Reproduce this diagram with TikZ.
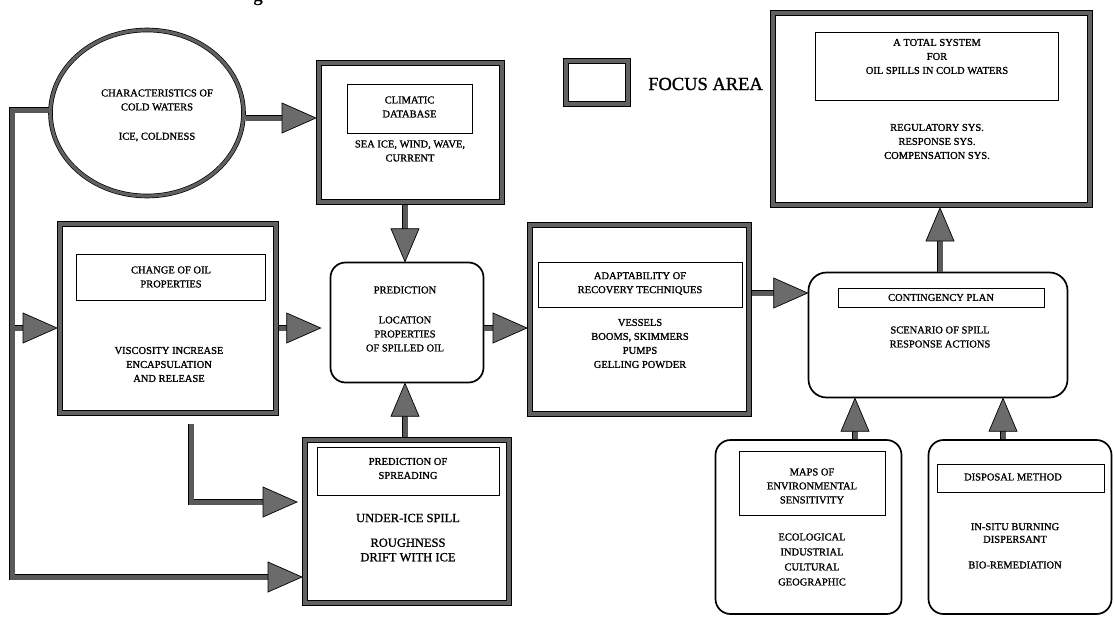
\documentclass[tikz,border=0pt]{standalone}
\usepackage{fontspec}
\setmainfont{Liberation Serif}
\newfontfamily\scanfont[FakeBold=1.2]{Liberation Serif}
\usetikzlibrary{shapes.geometric,calc}
\tikzset{
 focus/.style={draw=black, line width=0.7pt, double=black!62, double distance=4.6pt, fill=white, inner sep=0pt, outer sep=3pt},
 inbox/.style={draw=black, line width=0.9pt, inner sep=0pt},
 rbox/.style={draw=black, line width=1.7pt, rounded corners=15pt, inner sep=0pt, outer sep=0.8pt},
 txt/.style={align=center, inner sep=0pt, font=\scanfont\fontsize{10.5}{14}\selectfont},
 bigtxt/.style={align=center, inner sep=0pt, font=\scanfont\fontsize{12.5}{14.5}\selectfont},
 shaft/.style={draw=black, line width=0.7pt, double=black!65, double distance=5pt},
 head/.style={draw=black, line width=0.7pt, fill=black!58, line join=miter},
}
\newcommand\hdR[1]{\filldraw[head] (#1) -- ++(-34,-15) -- ++(0,30) -- cycle;}
\newcommand\hdU[1]{\filldraw[head] (#1) -- ++(-14,33) -- ++(28,0) -- cycle;}
\newcommand\hdD[1]{\filldraw[head] (#1) -- ++(-14,-33) -- ++(28,0) -- cycle;}
\begin{document}
\begin{tikzpicture}[x=1pt,y=-1pt]
\useasboundingbox (0,0) rectangle (1114,616);
% caption fragment
\node[font=\scanfont\fontsize{19}{19}\selectfont, anchor=base, inner sep=0pt] (capg) at (258,1) {g};
% ellipse
\node[ellipse, draw=black, line width=0.7pt, double=black!62, double distance=3.2pt, minimum width=193pt, minimum height=166pt, outer sep=2pt] (ell) at (147,113) {};
\node[txt] (ellt) at (157,100) {CHARACTERISTICS OF\\COLD WATERS};
\node[txt] (ellb) at (157,137) {ICE, COLDNESS};
% climatic
\node[focus, minimum width=183pt, minimum height=139pt] (clim) at (410.5,132.5) {};
\node[inbox, minimum width=125pt, minimum height=49pt] (climin) at (409.5,108.5) {};
\node[txt] (climt) at (409.5,107) {CLIMATIC\\DATABASE};
\node[txt] (climb) at (410,151) {SEA ICE, WIND, WAVE,\\CURRENT};
% legend
\node[focus, minimum width=62pt, minimum height=43pt] (legend) at (597,82.5) {};
\node[inner sep=0pt, font=\scanfont\fontsize{18.5}{20}\selectfont, anchor=west] (legendt) at (648,84) {FOCUS AREA};
% total system
\node[focus, minimum width=317pt, minimum height=192pt] (total) at (931.5,109) {};
\node[inbox, minimum width=243pt, minimum height=68pt] (totalin) at (936.5,66) {};
\node[txt] (totalt) at (937,56.5) {A TOTAL SYSTEM\\FOR\\OIL SPILLS IN COLD WATERS};
\node[txt] (totalb) at (937,141.5) {REGULATORY SYS.\\RESPONSE SYS.\\COMPENSATION SYS.};
% change of oil properties
\node[focus, minimum width=216pt, minimum height=189pt] (change) at (168,318.5) {};
\node[inbox, minimum width=189pt, minimum height=46pt] (changein) at (170.5,277) {};
\node[txt] (changet) at (171,277) {CHANGE OF OIL\\PROPERTIES};
\node[txt] (changeb) at (169,364.5) {VISCOSITY INCREASE\\ENCAPSULATION\\AND RELEASE};
% prediction
\node[rbox, minimum width=153pt, minimum height=120pt] (pred) at (407,322.5) {};
\node[txt] (predt) at (405,290) {PREDICTION};
\node[txt] (predb) at (405,334) {LOCATION\\PROPERTIES\\OF SPILLED OIL};
% adaptability
\node[focus, minimum width=219pt, minimum height=189pt] (adapt) at (639.5,319.5) {};
\node[inbox, minimum width=204pt, minimum height=45pt] (adaptin) at (640,284.5) {};
\node[txt] (adaptt) at (640,283.5) {ADAPTABILITY OF\\RECOVERY TECHNIQUES};
\node[txt] (adaptb) at (640,343.5) {VESSELS\\BOOMS, SKIMMERS\\PUMPS\\GELLING POWDER};
% contingency
\node[rbox, rounded corners=18pt, minimum width=259pt, minimum height=125pt] (cont) at (938,335) {};
\node[inbox, minimum width=206pt, minimum height=19pt] (contin) at (941,297.5) {};
\node[txt] (contt) at (941,297.5) {CONTINGENCY PLAN};
\node[txt] (contb) at (940,337) {SCENARIO OF SPILL\\RESPONSE ACTIONS};
% spreading
\node[focus, minimum width=204pt, minimum height=163pt] (spread) at (407,521.5) {};
\node[inbox, minimum width=182pt, minimum height=48pt] (spreadin) at (408,471) {};
\node[txt] (spreadt) at (408,468.5) {PREDICTION OF\\SPREADING};
\node[bigtxt] (spreadb1) at (408,518) {UNDER-ICE SPILL};
\node[bigtxt] (spreadb2) at (408,550) {ROUGHNESS\\DRIFT WITH ICE};
% maps
\node[rbox, minimum width=186pt, minimum height=174pt] (maps) at (808.5,527) {};
\node[inbox, minimum width=146pt, minimum height=64pt] (mapsin) at (812,483) {};
\node[txt] (mapst) at (812,486) {MAPS OF\\ENVIRONMENTAL\\SENSITIVITY};
\node[txt, font=\scanfont\fontsize{10.5}{15}\selectfont] (mapsb) at (812,559.5) {ECOLOGICAL\\INDUSTRIAL\\CULTURAL\\GEOGRAPHIC};
% disposal
\node[rbox, minimum width=183pt, minimum height=174pt] (disp) at (1020,527) {};
\node[inbox, minimum width=167pt, minimum height=28pt] (dispin) at (1020.5,478) {};
\node[txt] (dispt) at (1013,477) {DISPOSAL METHOD};
\node[txt, font=\scanfont\fontsize{10.5}{12.6}\selectfont] (dispb1) at (1015,533) {IN-SITU BURNING\\DISPERSANT};
\node[txt] (dispb2) at (1015,565) {BIO-REMEDIATION};
% ---------------- connectors
% ellipse -> climatic
\coordinate (t1) at (clim.west |- 0,118);
\coordinate (s1) at (ell.east |- t1);
\draw[shaft] (s1) -- ($(t1)+(-32,0)$); \hdR{t1}
% climatic -> prediction
\coordinate (t2) at ($(pred.north)+(-2,0)$);
\coordinate (s2) at (clim.south -| t2);
\draw[shaft] (s2) -- ($(t2)+(0,-31)$); \hdD{t2}
% spreading -> prediction
\coordinate (t3) at ($(pred.south)+(-2,0)$);
\coordinate (s3) at (spread.north -| t3);
\draw[shaft] (s3) -- ($(t3)+(0,31)$); \hdU{t3}
% change -> prediction
\coordinate (t4) at ($(pred.west |- 0,328)+(-9,0)$);
\coordinate (s4) at (change.east |- t4);
\draw[shaft] (s4) -- ($(t4)+(-32,0)$); \hdR{t4}
% prediction -> adaptability
\coordinate (t5) at (adapt.west |- 0,328);
\coordinate (s5) at (pred.east |- t5);
\draw[shaft] (s5) -- ($(t5)+(-32,0)$); \hdR{t5}
% adaptability -> contingency
\coordinate (t6) at (cont.west |- 0,293);
\coordinate (s6) at (adapt.east |- t6);
\draw[shaft] (s6) -- ($(t6)+(-32,0)$); \hdR{t6}
% contingency -> total system
\coordinate (t7) at ($(total.south)+(8.5,0)$);
\coordinate (s7) at (cont.north -| t7);
\draw[shaft] (s7) -- ($(t7)+(0,31)$); \hdU{t7}
% maps -> contingency
\coordinate (s8) at ($(maps.north)+(46.5,0)$);
\coordinate (t8) at (cont.south -| s8);
\draw[shaft] (s8) -- ($(t8)+(0,31)$); \hdU{t8}
% disposal -> contingency
\coordinate (s9) at ($(disp.north)+(-17,0)$);
\coordinate (t9) at (cont.south -| s9);
\draw[shaft] (s9) -- ($(t9)+(0,31)$); \hdU{t9}
% feedback loop from characteristics
\coordinate (lD) at (12,328);
\coordinate (t11) at (change.west |- lD);
\draw[shaft] (lD) -- ($(t11)+(-32,0)$); \hdR{t11}
\coordinate (lA) at (ell.west |- 0,110);
\coordinate (lB) at (12,110);
\coordinate (lC) at (12,577);
\coordinate (t10) at (spread.west |- lC);
\draw[shaft] (lA) -- (lB) -- (lC) -- ($(t10)+(-32,0)$); \hdR{t10}
% change -> spreading
\coordinate (c1) at ($(change.south)+(23,8)$);
\coordinate (t12) at ($(spread.west |- 0,502)+(-5,0)$);
\coordinate (c2) at (c1 |- t12);
\draw[shaft] (c1) -- (c2) -- ($(t12)+(-32,0)$); \hdR{t12}
\end{tikzpicture}
\end{document}
